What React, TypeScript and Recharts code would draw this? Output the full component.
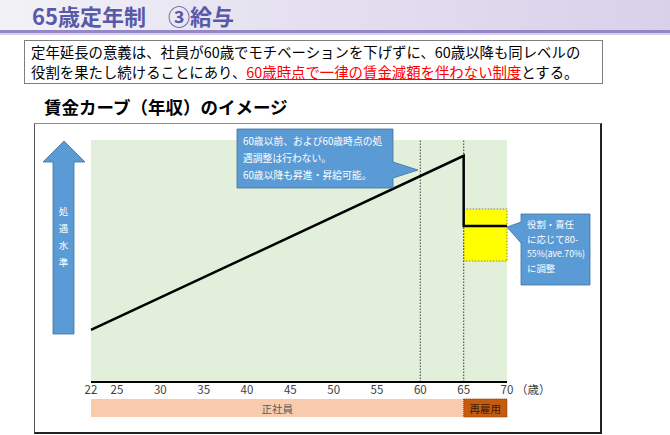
import React from 'react';
import {
  ComposedChart, Line, XAxis, YAxis, CartesianGrid, ReferenceArea, ReferenceLine,
} from 'recharts';

// 年齢と処遇水準（60歳時点 = 100）
const ages = [22, 65, 65, 70];
const wageLevel = [23, 100, 69, 69];
const ageTicks = [22, 25, 30, 35, 40, 45, 50, 55, 60, 65, 70];
const markerAges = [60, 65];
const rangeAges = [65, 70];
const rangeLevels = [53.5, 76.5];
const employmentFrom = [22, 65];
const employmentTo = [65, 70];
const employmentLabels = ['正社員', '再雇用'];
const bandLevels = [-15.5, -7.5];
const note1 = ['60歳以前、および60歳時点の処', '遇調整は行わない。', '60歳以降も昇進・昇給可能。'];
const note2 = ['役割・責任', 'に応じて80-', '55%(ave.70%)', 'に調整'];

const FONT = '"Noto Sans CJK JP", "Noto Sans", sans-serif';
const BLUE = '#5b9bd5';
const BLUE_EDGE = '#41719c';

const bandLabel = (text: string, color: string) => (props: any) => {
  const vb = props.viewBox || {};
  return (
    <text
      x={vb.x + vb.width / 2}
      y={vb.y + vb.height / 2}
      textAnchor="middle"
      dominantBaseline="central"
      fontSize={10.5}
      fill={color}
      fontFamily={FONT}
    >
      {text}
    </text>
  );
};

export default function App() {
  const data = ages.map((age, i) => ({ age, level: wageLevel[i] }));

  return (
    <div style={{ position: 'absolute', left: 0, top: 0, width: 670, height: 435, background: '#fff', fontFamily: FONT, overflow: 'hidden' }}>
      {/* タイトル帯 */}
      <div style={{ position: 'absolute', left: 0, top: 0, width: 670, height: 30, background: 'linear-gradient(to right, #f2f2f6 0%, #e4e0f0 45%, #d8d1ea 100%)' }} />
      <div style={{ position: 'absolute', left: 0, top: 30, width: 670, height: 3, background: '#9387c6' }} />
      <div style={{ position: 'absolute', left: 0, top: 33, width: 670, height: 2, background: '#d6d0ea' }} />
      <div style={{ position: 'absolute', left: 32, top: 1, fontSize: 22, fontWeight: 700, color: '#5a58a8', lineHeight: '28px', whiteSpace: 'nowrap' }}>
        65歳定年制　③給与
      </div>

      {/* 説明ボックス */}
      <div style={{ position: 'absolute', left: 24, top: 40, width: 579, height: 44, boxSizing: 'border-box', border: '1px solid #7f7f7f', padding: '1px 6px', fontSize: 14.4, lineHeight: '20px', color: '#000', whiteSpace: 'nowrap' }}>
        <div>定年延長の意義は、社員が60歳でモチベーションを下げずに、60歳以降も同レベルの</div>
        <div>
          役割を果たし続けることにあり、
          <span style={{ color: '#ff0000', textDecoration: 'underline' }}>60歳時点で一律の賃金減額を伴わない制度</span>
          とする。
        </div>
      </div>

      <div style={{ position: 'absolute', left: 44, top: 96, fontSize: 17.5, fontWeight: 700, color: '#000', lineHeight: '22px', whiteSpace: 'nowrap' }}>
        賃金カーブ（年収）のイメージ
      </div>

      {/* グラフ枠 */}
      <div style={{ position: 'absolute', left: 34, top: 123, width: 568, height: 311, boxSizing: 'border-box', borderTop: '1px solid #8c8c8c', borderLeft: '1px solid #555', borderRight: '2px solid #222', borderBottom: '2px solid #222' }} />

      <div style={{ position: 'absolute', left: 0, top: 0 }}>
        <ComposedChart width={670} height={435} data={data} margin={{ top: 140, right: 163, bottom: 23, left: 91 }}>
          <CartesianGrid horizontal={false} vertical={false} fill="#e2efda" />
          <XAxis
            dataKey="age"
            type="number"
            domain={[22, 70]}
            ticks={ageTicks}
            interval={0}
            height={30}
            tickLine={false}
            tickMargin={-2}
            axisLine={{ stroke: '#000', strokeWidth: 2 }}
            tick={{ fontSize: 11.5, fill: '#404040', fontFamily: FONT }}
          />
          <YAxis type="number" domain={[0, 107]} width={0} tick={false} tickLine={false} axisLine={{ stroke: '#000', strokeWidth: 2 }} />
          <ReferenceArea
            x1={rangeAges[0]}
            x2={rangeAges[1]}
            y1={rangeLevels[0]}
            y2={rangeLevels[1]}
            fill="#ffff00"
            fillOpacity={1}
            stroke="#7f7f7f"
            strokeDasharray="1.5 1.5"
          />
          {markerAges.map((a) => (
            <ReferenceLine key={a} x={a} stroke="#595959" strokeWidth={1.2} strokeDasharray="1.5 1.5" />
          ))}
          {employmentLabels.map((lab, i) => (
            <ReferenceArea
              key={lab}
              x1={employmentFrom[i]}
              x2={employmentTo[i]}
              y1={bandLevels[0]}
              y2={bandLevels[1]}
              ifOverflow="visible"
              fill={i === 0 ? '#f8cbad' : '#c55a11'}
              fillOpacity={1}
              stroke={i === 0 ? 'none' : '#843c0c'}
              strokeDasharray={i === 0 ? undefined : '1 1'}
              label={bandLabel(lab, i === 0 ? '#595959' : '#3a1a05')}
            />
          ))}
          <Line
            dataKey="level"
            type="linear"
            stroke="#000"
            strokeWidth={2.5}
            dot={false}
            activeDot={false}
            isAnimationActive={false}
          />
        </ComposedChart>
      </div>

      {/* 矢印と吹き出し */}
      <svg width={670} height={435} style={{ position: 'absolute', left: 0, top: 0, pointerEvents: 'none' }}>
        <polygon
          points="64,141 85,162 74,162 74,334 53,334 53,162 43,162"
          fill={BLUE}
          stroke={BLUE_EDGE}
          strokeWidth={0.8}
        />
        {['処', '遇', '水', '準'].map((c, i) => (
          <text key={c} x={63.5} y={215 + i * 17} textAnchor="middle" fontSize={9.5} fill="#fff" fontFamily={FONT}>{c}</text>
        ))}

        <polygon
          points="237,129 393,129 393,162 418,170 393,178 393,188 237,188"
          fill={BLUE}
          stroke={BLUE_EDGE}
          strokeWidth={0.8}
        />
        {note1.map((t, i) => (
          <text key={t} x={243} y={144.5 + i * 17} fontSize={9.8} fill="#fff" fontFamily={FONT}>{t}</text>
        ))}

        <polygon
          points="521,214 590,214 590,285 521,285 521,243 507,227 521,222"
          fill={BLUE}
          stroke={BLUE_EDGE}
          strokeWidth={0.8}
        />
        {note2.map((t, i) => (
          <text key={t} x={527} y={228 + i * 14.5} fontSize={9.4} fill="#fff" fontFamily={FONT} textLength={i === 2 ? 58 : undefined} lengthAdjust="spacingAndGlyphs">{t}</text>
        ))}

        <text x={516} y={394} fontSize={11.5} fill="#404040" fontFamily={FONT}>（歳）</text>
      </svg>
    </div>
  );
}
